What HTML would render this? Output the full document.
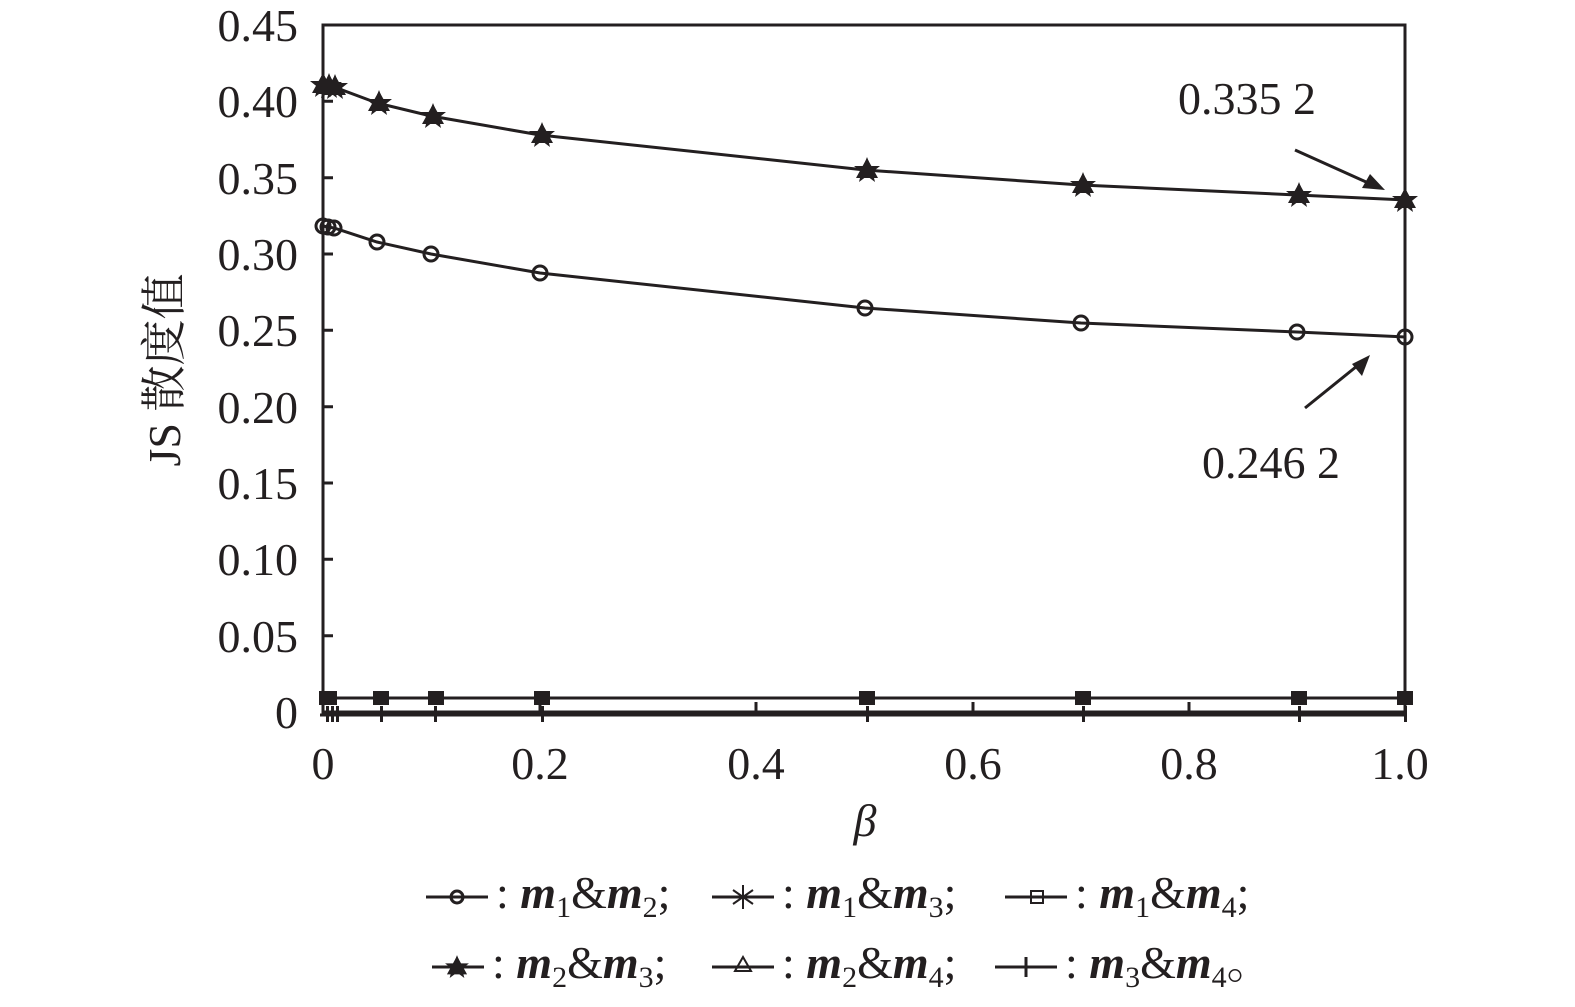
<!DOCTYPE html><html><head><meta charset="utf-8"><style>html,body{margin:0;padding:0;background:#fff;overflow:hidden;width:1575px;height:1007px}svg{display:block}text{font-family:"Liberation Serif","Times New Roman",serif}.cjk{font-family:"Liberation Serif","Noto Serif CJK SC",serif}</style></head><body>
<svg width="1575" height="1007" viewBox="0 0 1575 1007" xmlns="http://www.w3.org/2000/svg" fill="#231f20">
<defs>
<symbol id="st" viewBox="-12 -12 24 24" overflow="visible"><polygon points="0,-13 3.5,-4 13,-4 5.5,2 8,12 0,6 -8,12 -5.5,2 -13,-4 -3.5,-4" fill="#231f20"/><polygon points="0,-12 11,8 -11,8" fill="#231f20"/></symbol>
</defs>
<g stroke="#231f20" stroke-width="3" fill="none">
<rect x="323" y="25" width="1082" height="687"/>
<path d="M323 101.3h10M323 177.7h10M323 254h10M323 330.3h10M323 406.7h10M323 483h10M323 559.3h10M323 635.7h10"/>
<path d="M540 712v-10M756 712v-10M973 712v-10M1189 712v-10"/>
<polyline points="323,85 328,86 334,87 377,103 431,116 540,135 865,170 1081,185 1297,195 1405,200"/>
<polyline points="323,226 328,227 334,228 377,242 431,254 540,273 865,308 1081,323 1297,332 1405,337"/>
<polyline points="320,698 1405,698"/>
<polyline points="320,715 1405,715"/>
<path d="M1295 150 L1375 186"/><path d="M1305 408 L1362 362"/>
</g>
<polygon points="1385,190 1362,188 1370,174"/><polygon points="1370,355 1362,376 1352,364"/>
<g stroke="#231f20" stroke-width="3" fill="none">
<circle cx="323" cy="226" r="7"/><circle cx="328" cy="227" r="7"/><circle cx="334" cy="228" r="7"/><circle cx="377" cy="242" r="7"/><circle cx="431" cy="254" r="7"/><circle cx="540" cy="273" r="7"/><circle cx="865" cy="308" r="7"/><circle cx="1081" cy="323" r="7"/><circle cx="1297" cy="332" r="7"/><circle cx="1405" cy="337" r="7"/>
</g>
<g fill="#231f20">
<rect x="326" y="706" width="3" height="16"/><rect x="331" y="706" width="3" height="16"/><rect x="336" y="706" width="3" height="16"/><rect x="380" y="706" width="3" height="16"/><rect x="434" y="706" width="3" height="16"/><rect x="541" y="706" width="3" height="16"/><rect x="866" y="706" width="3" height="16"/><rect x="1082" y="706" width="3" height="16"/><rect x="1298" y="706" width="3" height="16"/><rect x="1404" y="706" width="3" height="16"/>
<rect x="319" y="691" width="18" height="14"/><rect x="373" y="691" width="16" height="14"/><rect x="428" y="691" width="16" height="14"/><rect x="534" y="691" width="16" height="14"/><rect x="859" y="691" width="16" height="14"/><rect x="1075" y="691" width="16" height="14"/><rect x="1291" y="691" width="16" height="14"/><rect x="1397" y="691" width="16" height="14"/>
<use href="#st" x="311" y="73" width="24" height="24"/><use href="#st" x="317" y="74" width="24" height="24"/><use href="#st" x="323" y="75" width="24" height="24"/><use href="#st" x="367" y="91" width="24" height="24"/><use href="#st" x="421" y="104" width="24" height="24"/><use href="#st" x="530" y="123" width="24" height="24"/><use href="#st" x="855" y="158" width="24" height="24"/><use href="#st" x="1071" y="173" width="24" height="24"/><use href="#st" x="1287" y="183" width="24" height="24"/><use href="#st" x="1393" y="188" width="24" height="24"/>
</g>
<g font-size="46" text-anchor="end">
<text x="298" y="41">0.45</text><text x="298" y="117">0.40</text><text x="298" y="194">0.35</text><text x="298" y="270">0.30</text><text x="298" y="346">0.25</text><text x="298" y="423">0.20</text><text x="298" y="499">0.15</text><text x="298" y="575">0.10</text><text x="298" y="652">0.05</text><text x="298" y="728">0</text>
</g>
<g font-size="46" text-anchor="middle">
<text x="323" y="779">0</text><text x="540" y="779">0.2</text><text x="756" y="779">0.4</text><text x="973" y="779">0.6</text><text x="1189" y="779">0.8</text><text x="1400" y="779">1.0</text>
<text x="865" y="836" font-style="italic">β</text>
<text x="1247" y="114">0.335 2</text><text x="1271" y="478">0.246 2</text>
<text class="cjk" transform="translate(180,370) rotate(-90)">JS 散度值</text>
</g>
<g stroke="#231f20" stroke-width="3" fill="none"><path d="M426 897h62M712 897h62M1005 897h62M432 967h52M712 967h62M995 967h62M1026 957v20"/><circle cx="457" cy="897" r="6"/><rect x="1031" y="891" width="12" height="12" stroke-width="2"/><path d="M743 885v24M733 890l20 14M733 904l20 -14" stroke-width="2"/><path d="M743 957l-8 14h16z" stroke-width="2"/></g>
<use href="#st" x="446" y="956" width="22" height="22"/>
<g font-size="46">
<text x="496" y="908"><tspan>: </tspan><tspan font-style="italic" font-weight="bold">m</tspan><tspan font-size="30" dy="9">1</tspan><tspan dy="-9">&amp;</tspan><tspan font-style="italic" font-weight="bold">m</tspan><tspan font-size="30" dy="9">2</tspan><tspan dy="-9">;</tspan></text>
<text x="782" y="908"><tspan>: </tspan><tspan font-style="italic" font-weight="bold">m</tspan><tspan font-size="30" dy="9">1</tspan><tspan dy="-9">&amp;</tspan><tspan font-style="italic" font-weight="bold">m</tspan><tspan font-size="30" dy="9">3</tspan><tspan dy="-9">;</tspan></text>
<text x="1075" y="908"><tspan>: </tspan><tspan font-style="italic" font-weight="bold">m</tspan><tspan font-size="30" dy="9">1</tspan><tspan dy="-9">&amp;</tspan><tspan font-style="italic" font-weight="bold">m</tspan><tspan font-size="30" dy="9">4</tspan><tspan dy="-9">;</tspan></text>
<text x="492" y="978"><tspan>: </tspan><tspan font-style="italic" font-weight="bold">m</tspan><tspan font-size="30" dy="9">2</tspan><tspan dy="-9">&amp;</tspan><tspan font-style="italic" font-weight="bold">m</tspan><tspan font-size="30" dy="9">3</tspan><tspan dy="-9">;</tspan></text>
<text x="782" y="978"><tspan>: </tspan><tspan font-style="italic" font-weight="bold">m</tspan><tspan font-size="30" dy="9">2</tspan><tspan dy="-9">&amp;</tspan><tspan font-style="italic" font-weight="bold">m</tspan><tspan font-size="30" dy="9">4</tspan><tspan dy="-9">;</tspan></text>
<text class="cjk" x="1065" y="978"><tspan>: </tspan><tspan font-style="italic" font-weight="bold">m</tspan><tspan font-size="30" dy="9">3</tspan><tspan dy="-9">&amp;</tspan><tspan font-style="italic" font-weight="bold">m</tspan><tspan font-size="30" dy="9">4</tspan><tspan dy="-9">。</tspan></text>
</g>
</svg></body></html>
